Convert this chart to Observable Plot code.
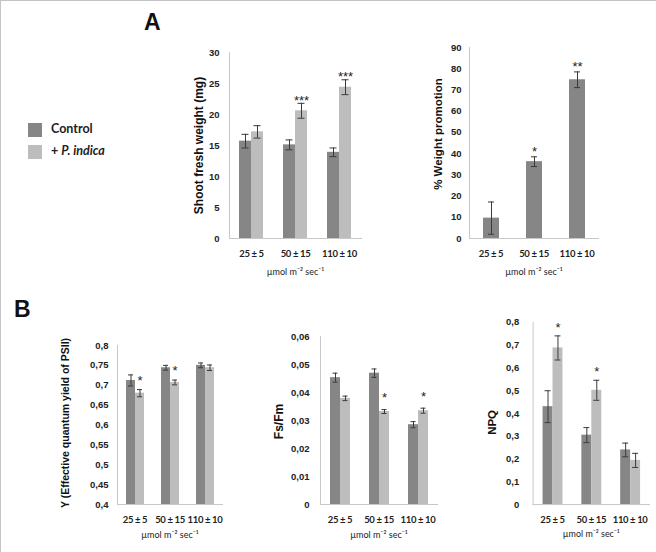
<!DOCTYPE html>
<html>
<head>
<meta charset="utf-8">
<script src="https://cdn.jsdelivr.net/npm/d3@7"></script>
<script src="https://cdn.jsdelivr.net/npm/@observablehq/plot@0.6"></script>
<style>
  html, body { margin: 0; padding: 0; background: #fff; }
  #root { position: relative; width: 655px; height: 551px; border-top: 1px solid #c4c4c4; border-left: 1px solid #c4c4c4; overflow: hidden; }
  .panel { position: absolute; }
  .panel svg { font-family: "Liberation Sans", Arial, sans-serif; overflow: visible; }
  .panel [aria-label="y-axis tick label"] { font-size: 9.5px; font-weight: bold; fill: #222; }
  .panel [aria-label="fx-axis tick label"] { font-family: Lato, sans-serif; font-size: 9.5px; font-weight: bold; letter-spacing: -0.35px; fill: #222; }
  .panel [aria-label="fx-axis label"] { font-family: Lato, sans-serif; font-size: 9px; fill: #222; }
  .title { position: absolute; font: bold 23px/1 "Liberation Sans", Arial, sans-serif; color: #111; }
  .sw { position: absolute; width: 14px; height: 14px; }
  .lg { position: absolute; font: bold 12.5px/1 Lato, sans-serif; color: #222; white-space: nowrap; }
</style>
</head>
<body>
<div id="root">
  <div class="title" style="left:143px; top:10px;">A</div>
  <div class="title" style="left:13px; top:297px;">B</div>
  <div class="sw" id="sw0" style="left:27px; top:122px;"></div>
  <div class="sw" id="sw1" style="left:27px; top:144px;"></div>
  <div class="lg" id="lg0" style="left:50px; top:122px;"></div>
  <div class="lg" id="lg1" style="left:50px; top:144px;"></div>
  <div class="panel" id="p1" style="left:150px; top:40px;"></div>
  <div class="panel" id="p2" style="left:390px; top:40px;"></div>
  <div class="panel" id="p3" style="left:40px; top:330px;"></div>
  <div class="panel" id="p4" style="left:240px; top:320px;"></div>
  <div class="panel" id="p5" style="left:450px; top:311px;"></div>
</div>
<script>
// ---- categories ----
const doses = ["25 ± 5", "50 ± 15", "110 ± 10"];
const groups = ["Control", "+ P. indica"];
const groupColors = ["#868686", "#bdbdbd"];
const doseUnit = "µmol m⁻² sec⁻¹";

// ---- A: shoot fresh weight (mg) ----
const shootControl = [15.7, 15.1, 13.9];
const shootControlErr = [1.1, 0.8, 0.7];
const shootIndica = [17.2, 20.6, 24.4];
const shootIndicaErr = [1.0, 1.2, 1.2];
const shootIndicaStars = ["", "***", "***"];
const shootTicks = [0, 5, 10, 15, 20, 25, 30];
const shootTickLabels = ["0", "5", "10", "15", "20", "25", "30"];

// ---- A: % weight promotion ----
const promo = [9.6, 36.2, 74.8];
const promoErr = [7.6, 2.3, 3.7];
const promoStars = ["", "*", "**"];
const promoTicks = [0, 10, 20, 30, 40, 50, 60, 70, 80, 90];
const promoTickLabels = ["0", "10", "20", "30", "40", "50", "60", "70", "80", "90"];

// ---- B: Y (effective quantum yield of PSII) ----
const yieldControl = [0.712, 0.744, 0.750];
const yieldControlErr = [0.014, 0.006, 0.006];
const yieldIndica = [0.680, 0.707, 0.744];
const yieldIndicaErr = [0.009, 0.006, 0.007];
const yieldIndicaStars = ["*", "*", ""];
const yieldTicks = [0.4, 0.45, 0.5, 0.55, 0.6, 0.65, 0.7, 0.75, 0.8];
const yieldTickLabels = ["0,4", "0,45", "0,5", "0,55", "0,6", "0,65", "0,7", "0,75", "0,8"];

// ---- B: Fs/Fm ----
const fsfmControl = [0.0453, 0.0469, 0.0285];
const fsfmControlErr = [0.0016, 0.0015, 0.0011];
const fsfmIndica = [0.0379, 0.0332, 0.0335];
const fsfmIndicaErr = [0.0008, 0.0007, 0.0009];
const fsfmIndicaStars = ["", "*", "*"];
const fsfmTicks = [0, 0.01, 0.02, 0.03, 0.04, 0.05, 0.06];
const fsfmTickLabels = ["0", "0,01", "0,02", "0,03", "0,04", "0,05", "0,06"];

// ---- B: NPQ ----
const npqControl = [0.43, 0.305, 0.24];
const npqControlErr = [0.07, 0.033, 0.03];
const npqIndica = [0.688, 0.502, 0.194];
const npqIndicaErr = [0.053, 0.044, 0.031];
const npqIndicaStars = ["*", "*", ""];
const npqTicks = [0, 0.1, 0.2, 0.3, 0.4, 0.5, 0.6, 0.7, 0.8];
const npqTickLabels = ["0", "0,1", "0,2", "0,3", "0,4", "0,5", "0,6", "0,7", "0,8"];

// ---- legend ----
document.getElementById("sw0").style.background = groupColors[0];
document.getElementById("sw1").style.background = groupColors[1];
document.getElementById("lg0").textContent = groups[0];
document.getElementById("lg1").innerHTML = "+ <i>P. indica</i>";

const axisColor = "#c8c8c8";
const errColor = "#3a3a3a";

function rowsFor(series) {
  return series.flatMap(s => doses.map((dose, i) => ({
    dose, group: s.group, value: s.values[i], err: s.errs[i], star: s.stars ? s.stars[i] : ""
  })));
}

function panel(id, cfg) {
  const rows = rowsFor(cfg.series);
  const base = cfg.ticks[0];
  const fmt = d => cfg.tickLabels[cfg.ticks.indexOf(d)];
  const used = cfg.series.map(s => s.group);
  const chart = Plot.plot({
    width: cfg.width, height: cfg.height,
    marginLeft: cfg.mL, marginRight: cfg.mR, marginTop: cfg.mT, marginBottom: cfg.mB,
    style: {background: "transparent", overflow: "visible"},
    fx: {domain: doses, paddingInner: 0, paddingOuter: 0},
    x: {domain: used, axis: null, paddingInner: 0, paddingOuter: cfg.xPad},
    y: {domain: [cfg.ticks[0], cfg.ticks[cfg.ticks.length - 1]]},
    color: {domain: groups, range: groupColors},
    marks: [
      Plot.barY(rows, {fx: "dose", x: "group", y1: base, y2: "value", fill: "group"}),
      Plot.ruleX(rows, {fx: "dose", x: "group", y1: d => d.value - d.err, y2: d => d.value + d.err, stroke: errColor, strokeWidth: 1}),
      Plot.tickY(rows, {fx: "dose", x: "group", y: d => d.value + d.err, stroke: errColor, strokeWidth: 1, insetLeft: cfg.capInset, insetRight: cfg.capInset}),
      Plot.tickY(rows, {fx: "dose", x: "group", y: d => d.value - d.err, stroke: errColor, strokeWidth: 1, insetLeft: cfg.capInset, insetRight: cfg.capInset}),
      Plot.text(rows.filter(d => d.star), {fx: "dose", x: "group", y: d => d.value + d.err, text: "star", dy: cfg.starDy, fontSize: 13, fill: "#222", fontFamily: "Liberation Sans, Arial, sans-serif"}),
      Plot.frame({anchor: "bottom", stroke: axisColor}),
      Plot.frame({anchor: "left", facetAnchor: "left", stroke: axisColor}),
      Plot.axisY({ticks: cfg.ticks, tickFormat: fmt, tickSize: 0, tickPadding: cfg.yPad, label: null}),
      Plot.text([cfg.label], {frameAnchor: "left", facetAnchor: "left", textAnchor: "middle", lineAnchor: "middle", rotate: -90, dx: -cfg.labelDx, dy: cfg.labelDy, fontSize: cfg.labelSize, fontWeight: "bold", fill: "#111", fontFamily: "Liberation Sans, Arial, sans-serif"}),
      Plot.axisFx({anchor: "bottom", tickSize: 0, tickPadding: cfg.fxPad, label: doseUnit, labelAnchor: "center", labelOffset: cfg.fxLabelOffset})
    ]
  });
  document.getElementById(id).appendChild(chart);
}

panel("p1", {
  width: 220, height: 242, mL: 78, mR: 10, mT: 11, mB: 45,
  ticks: shootTicks, tickLabels: shootTickLabels, xPad: 0.83, capInset: 2.5,
  yPad: 10, starDy: -3, label: "Shoot fresh weight (mg)", labelDx: 30, labelDy: 0, labelSize: 12,
  fxPad: 12, fxLabelOffset: 36,
  series: [
    {group: groups[0], values: shootControl, errs: shootControlErr},
    {group: groups[1], values: shootIndica, errs: shootIndicaErr, stars: shootIndicaStars}
  ]
});

panel("p2", {
  width: 217, height: 242, mL: 78, mR: 10, mT: 6, mB: 45,
  ticks: promoTicks, tickLabels: promoTickLabels, xPad: 0.765, capInset: 5,
  yPad: 8, starDy: -5, label: "% Weight promotion", labelDx: 31, labelDy: -9, labelSize: 11.5,
  fxPad: 12, fxLabelOffset: 36,
  series: [
    {group: groups[0], values: promo, errs: promoErr, stars: promoStars}
  ]
});

panel("p3", {
  width: 190, height: 218, mL: 75, mR: 8, mT: 14, mB: 45,
  ticks: yieldTicks, tickLabels: yieldTickLabels, xPad: 0.78, capInset: 2,
  yPad: 9, starDy: -9, label: "Y (Effective quantum yield of PSII)", labelDx: 52, labelDy: -2, labelSize: 10.5,
  fxPad: 12, fxLabelOffset: 33,
  series: [
    {group: groups[0], values: yieldControl, errs: yieldControlErr},
    {group: groups[1], values: yieldIndica, errs: yieldIndicaErr, stars: yieldIndicaStars}
  ]
});

panel("p4", {
  width: 205, height: 228, mL: 78, mR: 8, mT: 15, mB: 45,
  ticks: fsfmTicks, tickLabels: fsfmTickLabels, xPad: 0.8, capInset: 2.5,
  yPad: 11, starDy: -11.5, label: "Fs/Fm", labelDx: 41, labelDy: 1, labelSize: 12,
  fxPad: 12, fxLabelOffset: 33,
  series: [
    {group: groups[0], values: fsfmControl, errs: fsfmControlErr},
    {group: groups[1], values: fsfmIndica, errs: fsfmIndicaErr, stars: fsfmIndicaStars}
  ]
});

panel("p5", {
  width: 206, height: 238, mL: 81, mR: 6, mT: 10, mB: 45,
  ticks: npqTicks, tickLabels: npqTickLabels, xPad: 0.89, capInset: 2,
  yPad: 14, starDy: -8, label: "NPQ", labelDx: 41, labelDy: 9, labelSize: 11.5,
  fxPad: 12, fxLabelOffset: 33,
  series: [
    {group: groups[0], values: npqControl, errs: npqControlErr},
    {group: groups[1], values: npqIndica, errs: npqIndicaErr, stars: npqIndicaStars}
  ]
});
</script>
</body>
</html>
